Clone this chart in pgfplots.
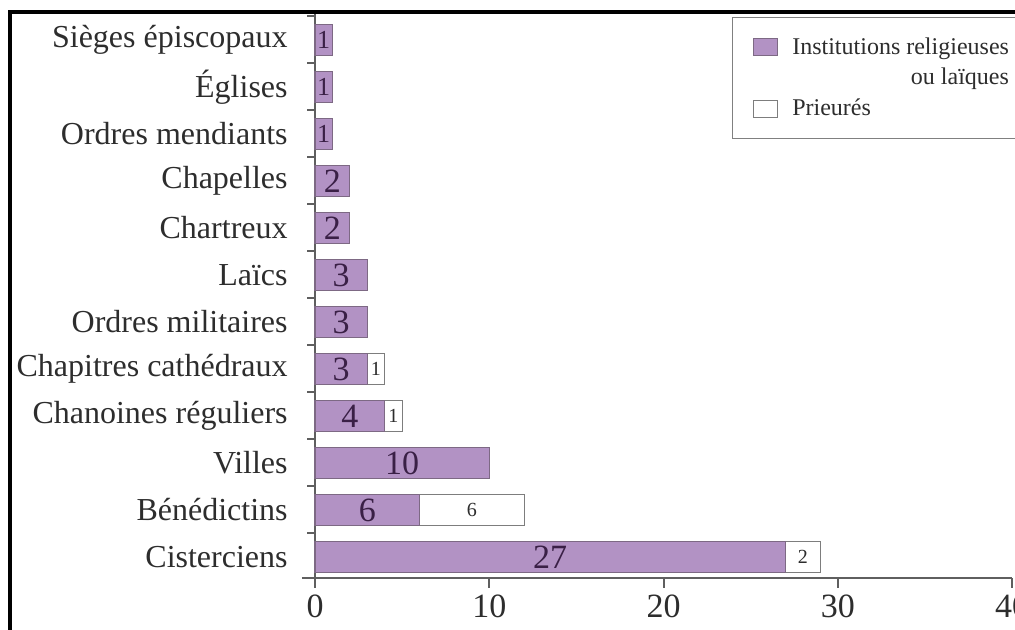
\documentclass[border=0pt]{standalone}
\usepackage{fontspec}
\setmainfont{Liberation Serif}
\usepackage{calc}
\usepackage{pgfplots}
\usepackage{pgfplotstable}
\pgfplotsset{compat=1.18}

\definecolor{inst}{RGB}{178,146,196}
\definecolor{instedge}{RGB}{125,105,132}
\definecolor{prioedge}{RGB}{125,125,125}
\definecolor{numdark}{RGB}{58,32,70}
\definecolor{axisgray}{RGB}{95,95,95}
\definecolor{textgray}{RGB}{45,45,45}

% y = category index (0 = bottom)
\pgfplotstableread{
y inst prio
0 27 2
1 6 6
2 10 0
3 4 1
4 3 1
5 3 0
6 3 0
7 2 0
8 2 0
9 1 0
10 1 0
11 1 0
}\data

\newcommand\instlab[1]{\ifdim#1pt<1.5pt\fontsize{13}{13}\selectfont\else\fontsize{17}{17}\selectfont\fi\pgfmathprintnumber{#1}}
\newcommand\priolab[1]{\ifdim#1pt>0pt\pgfmathprintnumber{#1}\fi}

\begin{document}
\begin{tikzpicture}
\begin{axis}[
    at={(157.5pt,26pt)}, anchor=south west,
    scale only axis, width=348.5pt, height=282.5pt,
    xbar stacked, bar width=0.66,
    xmin=0, xmax=40, ymin=-0.447, ymax=11.574,
    axis lines=left,
    axis line style={-, draw=axisgray, line width=1.2pt},
    clip=false,
    xtick={0,10,20,30,40},
    ytick={0,...,11},
    yticklabels={Cisterciens, Bénédictins, Villes, Chanoines réguliers,
        Chapitres cathédraux, Ordres militaires, Laïcs, Chartreux,
        Chapelles, Ordres mendiants, Églises, Sièges épiscopaux},
    minor ytick={0.5,1.5,...,11.5},
    tick align=outside,
    major tick length=5pt, minor tick length=4pt,
    every tick/.style={draw=axisgray, line width=1pt},
    every major y tick/.style={draw=none},
    /pgf/number format/assume math mode=true,
    tick label style={text=textgray},
    x tick label style={font=\fontsize{17}{17}\selectfont},
    y tick label style={font=\fontsize{16}{16}\selectfont, inner xsep=0pt, xshift=-8.5pt},
    legend cell align=left,
    legend image code/.code={\draw[#1, line width=0.5pt] (0pt,-4.25pt) rectangle (12pt,4.25pt);},
    legend style={at={(0.598,0.993)}, anchor=north west,
        draw=gray, line width=0.5pt, inner xsep=10.5pt, inner ysep=10pt,
        row sep=5.5pt, text=textgray,
        font=\fontsize{12}{12}\selectfont,
        nodes={inner sep=0pt},
        /tikz/every odd column/.append style={column sep=7pt}},
]
\addplot[fill=inst, draw=instedge, line width=0.6pt,
    visualization depends on={\thisrow{inst}\as\val},
    nodes near coords={\instlab{\val}},
    every node near coord/.append style={anchor=center, text=numdark}]
    table[x=inst, y=y] {\data};
\addlegendentry{Institutions religieuses}
\addlegendimage{empty legend}
\addlegendentry{\makebox[\widthof{Institutions religieuses}][r]{ou laïques}}
\addplot[fill=white, draw=prioedge, line width=0.6pt,
    visualization depends on={\thisrow{prio}\as\val},
    nodes near coords={\priolab{\val}},
    every node near coord/.append style={anchor=center, text=textgray,
        font=\fontsize{10}{10}\selectfont}]
    table[x=prio, y=y] {\data};
\addlegendentry{Prieurés}
\draw[axisgray, line width=1.2pt] (axis cs:-0.75,-0.447) -- (axis cs:0,-0.447);
\end{axis}
\draw[black, line width=2pt] (5pt,-20pt) rectangle (530pt,309pt);
\pgfresetboundingbox
\path[use as bounding box] (0pt,0pt) rectangle (507.5pt,315pt);
\end{tikzpicture}
\end{document}
